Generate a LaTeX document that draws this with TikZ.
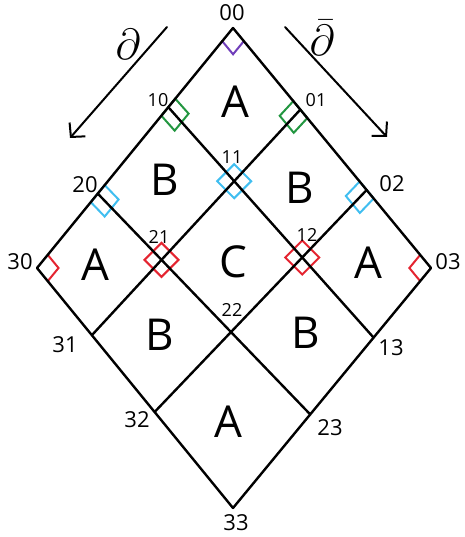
\documentclass[tikz,border=0pt]{standalone}
\usepackage{fontspec}
\setmainfont{Open Sans}
\usepackage{amssymb,amsmath}
\usetikzlibrary{calc,arrows.meta}
\definecolor{markViolet}{RGB}{112,62,186}
\definecolor{markGreen}{RGB}{34,150,64}
\definecolor{markCyan}{RGB}{64,190,240}
\definecolor{markRed}{RGB}{228,36,48}
\tikzset{
  gridline/.style={line width=2.4pt,line cap=round,line join=round},
  markline/.style={line width=2pt,line join=miter},
  idx/.style={inner sep=0pt,font=\fontsize{22}{22}\selectfont},
  idxsmall/.style={inner sep=0pt,font=\fontsize{18}{18}\selectfont},
  cell/.style={inner sep=0pt,font=\fontsize{44}{44}\selectfont},
  deriv/.style={inner sep=0pt,font=\fontsize{20}{20}\selectfont,scale=2.1},
}
\newcommand{\CornerMark}[4]{%
  \draw[markline,#1] ($(#2)!17pt!(#3)$) -- ($(#2)!17pt!(#3)+(#2)!17pt!(#4)-(#2)$) -- ($(#2)!17pt!(#4)$);}
\newcommand{\EdgeSquare}[5]{%
  \draw[markline,#1] ($(#2)!11pt!(#3)$) -- ($(#2)!11pt!(#3)+(#2)!20pt!(#5)-(#2)$)
    -- ($(#2)!11pt!(#4)+(#2)!20pt!(#5)-(#2)$) -- ($(#2)!11pt!(#4)$) -- cycle;}
\newcommand{\MidSquare}[2]{%
  \draw[markline,#1] (#2) ++(0,17) -- ++(17,-17) -- ++(-17,-17) -- ++(-17,17) -- cycle;}

\begin{document}
\begin{tikzpicture}[x=1pt,y=1pt]
\useasboundingbox (0,0) rectangle (464,-537);
% outer corners
\coordinate (p00) at (233,-28);
\coordinate (p30) at (37,-268);
\coordinate (p03) at (431,-268);
\coordinate (p33) at (233,-508);
% points on the edges
\coordinate (p10) at ($(p00)!0.33!(p30)$);
\coordinate (p20) at ($(p00)!0.69!(p30)$);
\coordinate (p01) at ($(p00)!0.34!(p03)$);
\coordinate (p02) at ($(p00)!0.675!(p03)$);
\coordinate (p31) at ($(p30)!0.28!(p33)$);
\coordinate (p32) at ($(p30)!0.6!(p33)$);
\coordinate (p13) at ($(p03)!0.29!(p33)$);
\coordinate (p23) at ($(p03)!0.61!(p33)$);
% crossings
\coordinate (p11) at (intersection of p10--p13 and p01--p31);
\coordinate (p21) at (intersection of p20--p23 and p01--p31);
\coordinate (p12) at (intersection of p10--p13 and p02--p32);
\coordinate (p22) at (intersection of p20--p23 and p02--p32);

% right angle marks
\CornerMark{markViolet}{p00}{p10}{p01}
\CornerMark{markRed}{p30}{p20}{p31}
\CornerMark{markRed}{p03}{p02}{p13}
\EdgeSquare{markGreen}{p10}{p00}{p20}{p11}
\EdgeSquare{markGreen}{p01}{p00}{p02}{p11}
\EdgeSquare{markCyan}{p20}{p10}{p30}{p21}
\EdgeSquare{markCyan}{p02}{p01}{p03}{p12}
\MidSquare{markCyan}{p11}
\MidSquare{markRed}{p21}
\MidSquare{markRed}{p12}

% grid
\draw[gridline] (p00) -- (p30) -- (p33) -- (p03) -- cycle;
\foreach \a/\b in {p10/p13,p20/p23,p01/p31,p02/p32}
  \draw[gridline] (\a) -- (\b);

% derivative arrows
\coordinate (dS) at (167,-27);
\coordinate (dE) at (70,-138);
\coordinate (dbS) at (285,-27);
\coordinate (dbE) at (387,-137);
\draw[gridline,line width=2pt,-{Straight Barb[length=10pt,width=21pt]}] (dS) -- (dE);
\draw[gridline,line width=2pt,-{Straight Barb[length=10pt,width=21pt]}] (dbS) -- (dbE);
\node[deriv] (dlab) at (128,-44) {$\partial$};
\node[deriv] (dblab) at (322,-38) {$\bar{\partial}$};

% indices
\node[idx] (l00) at (232,-13) {00};
\node[idxsmall] (l10) at (158,-100) {10};
\node[idxsmall] (l01) at (316,-100) {01};
\node[idx] (l20) at (85,-185) {20};
\node[idxsmall] (l11) at (232,-157) {11};
\node[idx] (l02) at (392,-184) {02};
\node[idx] (l30) at (20,-262) {30};
\node[idxsmall] (l21) at (159,-237) {21};
\node[idxsmall] (l12) at (307,-235) {12};
\node[idx] (l03) at (448,-262) {03};
\node[idx] (l31) at (65,-345) {31};
\node[idxsmall] (l22) at (232,-310) {22};
\node[idx] (l13) at (391,-348) {13};
\node[idx] (l32) at (137,-420) {32};
\node[idx] (l23) at (330,-428) {23};
\node[idx] (l33) at (236,-523) {33};

% cells
\node[cell] (cA1) at (235,-102) {A};
\node[cell] (cB1) at (165,-180) {B};
\node[cell] (cB2) at (300,-188) {B};
\node[cell] (cA2) at (95,-265) {A};
\node[cell] (cC) at (233,-262) {C};
\node[cell] (cA3) at (368,-263) {A};
\node[cell] (cB3) at (160,-335) {B};
\node[cell] (cB4) at (306,-333) {B};
\node[cell] (cA4) at (228,-422) {A};
\end{tikzpicture}
\end{document}
